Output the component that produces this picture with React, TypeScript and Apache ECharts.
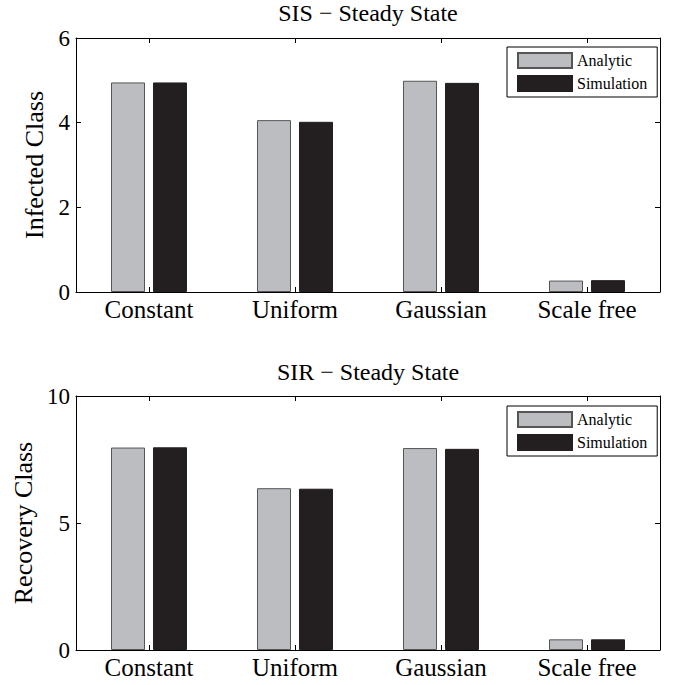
import React, { useEffect, useRef } from "react";
import * as echarts from "echarts";

const categories = ["Constant", "Uniform", "Gaussian", "Scale free"];
const seriesNames = ["Analytic", "Simulation"];
const sisAnalytic = [4.95, 4.06, 4.99, 0.27];
const sisSimulation = [4.95, 4.02, 4.94, 0.28];
const sirAnalytic = [7.97, 6.37, 7.95, 0.42];
const sirSimulation = [7.98, 6.35, 7.92, 0.42];
const sisAxis = { min: 0, max: 6, interval: 2 };
const sirAxis = { min: 0, max: 10, interval: 5 };
const titles = ["SIS \u2212 Steady State", "SIR \u2212 Steady State"];
const yNames = ["Infected Class", "Recovery Class"];

const FONT = "Liberation Serif, Times New Roman, serif";
const GRAY = "#bcbdc0";
const BLACK = "#231f20";

export default function App() {
  const ref = useRef<HTMLDivElement>(null);
  useEffect(() => {
    document.body.style.margin = "0";
    if (!ref.current) return;
    const chart = echarts.init(ref.current, undefined, { renderer: "svg" });

    const grids = [
      { left: 76, top: 38, width: 584, height: 254 },
      { left: 76, top: 396, width: 584, height: 254 },
    ];
    const axisLine = { show: true, onZero: false, lineStyle: { color: "#000", width: 1 } };
    const tick = { show: true, inside: true, length: 5, lineStyle: { color: "#000", width: 1 } };

    const xAxes: any[] = [];
    const yAxes: any[] = [];
    [0, 1].forEach((g) => {
      xAxes.push({
        type: "category",
        gridIndex: g,
        data: categories,
        position: "bottom",
        axisLine,
        axisTick: { ...tick, alignWithLabel: true },
        axisLabel: { color: "#000", fontSize: 25, fontFamily: FONT, margin: 5 },
        splitLine: { show: false },
      });
      xAxes.push({
        type: "category",
        gridIndex: g,
        data: categories,
        position: "top",
        axisLine,
        axisTick: { ...tick, alignWithLabel: true },
        axisLabel: { show: false },
        splitLine: { show: false },
      });
      const rng = g === 0 ? sisAxis : sirAxis;
      yAxes.push({
        type: "value",
        gridIndex: g,
        position: "left",
        min: rng.min,
        max: rng.max,
        interval: rng.interval,
        name: yNames[g],
        nameLocation: "middle",
        nameGap: g === 0 ? 28 : 38,
        nameTextStyle: { color: "#000", fontSize: 26, fontFamily: FONT },
        axisLine,
        axisTick: tick,
        axisLabel: { color: "#000", fontSize: 23, fontFamily: FONT, margin: 6 },
        splitLine: { show: false },
      });
      yAxes.push({
        type: "value",
        gridIndex: g,
        position: "right",
        min: rng.min,
        max: rng.max,
        interval: rng.interval,
        axisLine,
        axisTick: tick,
        axisLabel: { show: false },
        splitLine: { show: false },
      });
    });

    const barCommon = { type: "bar", barWidth: 34, barGap: "23.5%" };
    const series: any[] = [
      {
        ...barCommon,
        name: seriesNames[0],
        xAxisIndex: 0,
        yAxisIndex: 0,
        data: sisAnalytic,
        itemStyle: { color: GRAY, borderColor: "#555", borderWidth: 1 },
      },
      {
        ...barCommon,
        name: seriesNames[1],
        xAxisIndex: 0,
        yAxisIndex: 0,
        data: sisSimulation,
        itemStyle: { color: BLACK, borderColor: BLACK, borderWidth: 1 },
      },
      {
        ...barCommon,
        name: seriesNames[0],
        xAxisIndex: 2,
        yAxisIndex: 2,
        data: sirAnalytic,
        itemStyle: { color: GRAY, borderColor: "#555", borderWidth: 1 },
      },
      {
        ...barCommon,
        name: seriesNames[1],
        xAxisIndex: 2,
        yAxisIndex: 2,
        data: sirSimulation,
        itemStyle: { color: BLACK, borderColor: BLACK, borderWidth: 1 },
      },
    ];

    const legendCommon = {
      orient: "vertical",
      left: 507,
      data: seriesNames,
      icon: "rect",
      itemWidth: 54,
      itemHeight: 15,
      itemGap: 6,
      padding: [5, 10, 5, 10],
      borderColor: "#000",
      borderWidth: 1,
      backgroundColor: "#fff",
      selectedMode: false,
      textStyle: { color: "#000", fontSize: 16, fontFamily: FONT },
    };

    chart.setOption({
      animation: false,
      backgroundColor: "#fff",
      textStyle: { fontFamily: FONT },
      grid: grids,
      xAxis: xAxes,
      yAxis: yAxes,
      series,
      legend: [
        { ...legendCommon, top: 47 },
        { ...legendCommon, top: 406 },
      ],
      graphic: [
        {
          type: "text",
          x: 368,
          y: 13,
          style: {
            text: titles[0],
            fontSize: 24,
            fontFamily: FONT,
            fill: "#000",
            align: "center",
            verticalAlign: "middle",
          },
        },
        {
          type: "text",
          x: 368,
          y: 372,
          style: {
            text: titles[1],
            fontSize: 24,
            fontFamily: FONT,
            fill: "#000",
            align: "center",
            verticalAlign: "middle",
          },
        },
      ],
    });
    return () => chart.dispose();
  }, []);
  return <div ref={ref} style={{ width: 674, height: 685 }} />;
}
